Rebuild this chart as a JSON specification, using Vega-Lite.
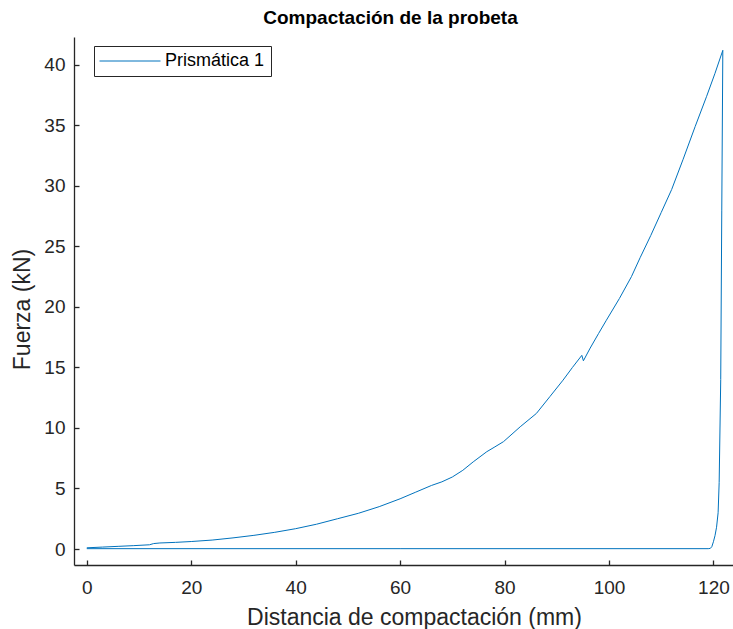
{
  "$schema": "https://vega.github.io/schema/vega-lite/v6.json",
  "autosize": "none",
  "width": 659,
  "height": 528,
  "padding": {"left": 74, "top": 37, "right": 0, "bottom": 64},
  "background": "white",
  "title": {
    "text": "Compactación de la probeta",
    "font": "Liberation Sans",
    "fontSize": 19,
    "fontWeight": "bold",
    "color": "#000000",
    "anchor": "middle",
    "dx": -13,
    "offset": 9
  },
  "config": {
    "view": {"stroke": null},
    "font": "Liberation Sans",
    "axis": {
      "domainColor": "#262626",
      "domainWidth": 1.3,
      "tickColor": "#262626",
      "tickWidth": 1.3,
      "tickSize": -5,
      "labelColor": "#262626",
      "labelFont": "Liberation Sans",
      "labelFontSize": 19,
      "titleColor": "#262626",
      "titleFont": "Liberation Sans",
      "titleFontSize": 23,
      "titleFontWeight": "normal",
      "grid": false
    }
  },
  "data": {
    "values": [
      {"i": 1, "serie": "Prismática 1", "d": 0, "f": 0.10},
      {"i": 2, "serie": "Prismática 1", "d": 3, "f": 0.16},
      {"i": 3, "serie": "Prismática 1", "d": 6, "f": 0.22},
      {"i": 4, "serie": "Prismática 1", "d": 9, "f": 0.28},
      {"i": 5, "serie": "Prismática 1", "d": 12, "f": 0.35},
      {"i": 6, "serie": "Prismática 1", "d": 12.8, "f": 0.45},
      {"i": 7, "serie": "Prismática 1", "d": 14, "f": 0.5},
      {"i": 8, "serie": "Prismática 1", "d": 17, "f": 0.55},
      {"i": 9, "serie": "Prismática 1", "d": 20, "f": 0.62},
      {"i": 10, "serie": "Prismática 1", "d": 24, "f": 0.74},
      {"i": 11, "serie": "Prismática 1", "d": 28, "f": 0.92},
      {"i": 12, "serie": "Prismática 1", "d": 32, "f": 1.13},
      {"i": 13, "serie": "Prismática 1", "d": 36, "f": 1.38},
      {"i": 14, "serie": "Prismática 1", "d": 40, "f": 1.68},
      {"i": 15, "serie": "Prismática 1", "d": 44, "f": 2.05},
      {"i": 16, "serie": "Prismática 1", "d": 48, "f": 2.5},
      {"i": 17, "serie": "Prismática 1", "d": 52, "f": 2.95},
      {"i": 18, "serie": "Prismática 1", "d": 56, "f": 3.5},
      {"i": 19, "serie": "Prismática 1", "d": 60, "f": 4.15},
      {"i": 20, "serie": "Prismática 1", "d": 63, "f": 4.7},
      {"i": 21, "serie": "Prismática 1", "d": 66, "f": 5.25},
      {"i": 22, "serie": "Prismática 1", "d": 68, "f": 5.55},
      {"i": 23, "serie": "Prismática 1", "d": 70, "f": 5.95},
      {"i": 24, "serie": "Prismática 1", "d": 72, "f": 6.5},
      {"i": 25, "serie": "Prismática 1", "d": 74, "f": 7.2},
      {"i": 26, "serie": "Prismática 1", "d": 76.6, "f": 8.04},
      {"i": 27, "serie": "Prismática 1", "d": 78, "f": 8.4},
      {"i": 28, "serie": "Prismática 1", "d": 79.8, "f": 8.87},
      {"i": 29, "serie": "Prismática 1", "d": 83, "f": 10.1},
      {"i": 30, "serie": "Prismática 1", "d": 86.1, "f": 11.2},
      {"i": 31, "serie": "Prismática 1", "d": 88.7, "f": 12.6},
      {"i": 32, "serie": "Prismática 1", "d": 91.2, "f": 13.95},
      {"i": 33, "serie": "Prismática 1", "d": 93, "f": 15.0},
      {"i": 34, "serie": "Prismática 1", "d": 94.8, "f": 16.0},
      {"i": 35, "serie": "Prismática 1", "d": 95.1, "f": 15.55},
      {"i": 36, "serie": "Prismática 1", "d": 96.4, "f": 16.6},
      {"i": 37, "serie": "Prismática 1", "d": 98, "f": 17.8},
      {"i": 38, "serie": "Prismática 1", "d": 99.5, "f": 18.9},
      {"i": 39, "serie": "Prismática 1", "d": 102, "f": 20.7},
      {"i": 40, "serie": "Prismática 1", "d": 104.3, "f": 22.5},
      {"i": 41, "serie": "Prismática 1", "d": 106, "f": 24.1},
      {"i": 42, "serie": "Prismática 1", "d": 108, "f": 25.9},
      {"i": 43, "serie": "Prismática 1", "d": 110, "f": 27.8},
      {"i": 44, "serie": "Prismática 1", "d": 112, "f": 29.7},
      {"i": 45, "serie": "Prismática 1", "d": 114.2, "f": 32.2},
      {"i": 46, "serie": "Prismática 1", "d": 116.5, "f": 34.9},
      {"i": 47, "serie": "Prismática 1", "d": 118.7, "f": 37.4},
      {"i": 48, "serie": "Prismática 1", "d": 120.3, "f": 39.3},
      {"i": 49, "serie": "Prismática 1", "d": 121.8, "f": 41.2},
      {"i": 50, "serie": "Prismática 1", "d": 121.6, "f": 28},
      {"i": 51, "serie": "Prismática 1", "d": 121.4, "f": 14},
      {"i": 52, "serie": "Prismática 1", "d": 121.1, "f": 5.5},
      {"i": 53, "serie": "Prismática 1", "d": 120.9, "f": 3},
      {"i": 54, "serie": "Prismática 1", "d": 120.6, "f": 1.8},
      {"i": 55, "serie": "Prismática 1", "d": 120.3, "f": 1.1},
      {"i": 56, "serie": "Prismática 1", "d": 120.0, "f": 0.6},
      {"i": 57, "serie": "Prismática 1", "d": 119.7, "f": 0.2},
      {"i": 58, "serie": "Prismática 1", "d": 119.4, "f": 0.05},
      {"i": 59, "serie": "Prismática 1", "d": 119.0, "f": 0.03},
      {"i": 60, "serie": "Prismática 1", "d": 60, "f": 0.03},
      {"i": 61, "serie": "Prismática 1", "d": 0, "f": 0.03}
    ]
  },
  "mark": {"type": "line", "strokeWidth": 1, "clip": true},
  "encoding": {
    "x": {
      "field": "d",
      "type": "quantitative",
      "title": "Distancia de compactación (mm)",
      "scale": {"domain": [-2.45, 123.75], "nice": false, "zero": false},
      "axis": {"values": [0, 20, 40, 60, 80, 100, 120], "labelPadding": 18, "titlePadding": 9, "titleX": 340, "format": "d"}
    },
    "y": {
      "field": "f",
      "type": "quantitative",
      "title": "Fuerza (kN)",
      "scale": {"domain": [-1.32, 42.3], "nice": false, "zero": false},
      "axis": {"values": [0, 5, 10, 15, 20, 25, 30, 35, 40], "labelPadding": 14, "titlePadding": 9, "titleY": 272, "format": "d"}
    },
    "order": {"field": "i", "type": "quantitative"},
    "color": {
      "field": "serie",
      "type": "nominal",
      "scale": {"range": ["#0072BD"]},
      "legend": {
        "title": null,
        "orient": "none",
        "legendX": 20,
        "legendY": 9,
        "padding": 6,
        "strokeColor": "#262626",
        "fillColor": "#ffffff",
        "cornerRadius": 0,
        "symbolType": "M-6.1,0H6.1",
        "symbolSize": 100,
        "symbolStrokeWidth": 1,
        "symbolOffset": 21,
        "labelOffset": 26,
        "labelFont": "Liberation Sans",
        "labelFontSize": 18,
        "labelColor": "#000000"
      }
    }
  }
}
